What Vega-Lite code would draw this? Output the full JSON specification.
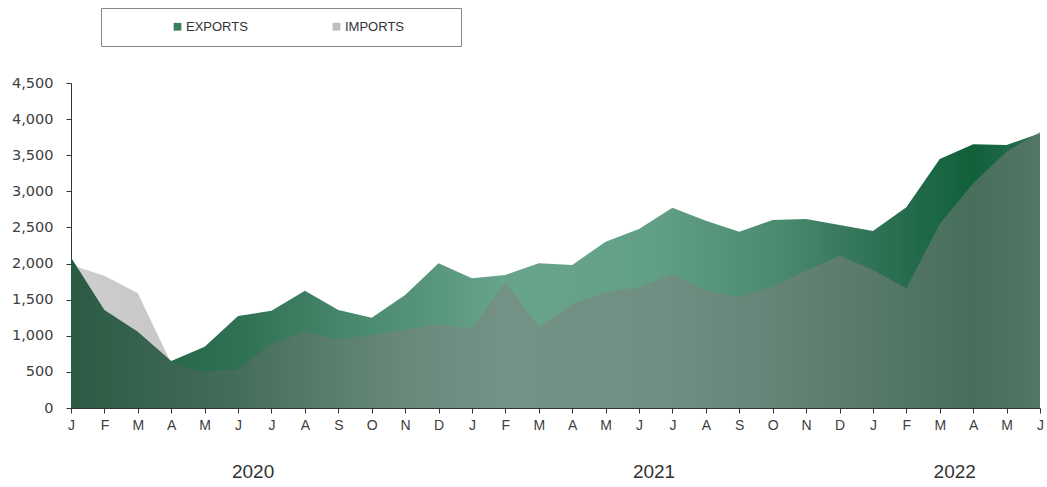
{
  "$schema": "https://vega.github.io/schema/vega-lite/v6.json",
  "width": 969,
  "height": 325,
  "autosize": {"type": "none"},
  "padding": {"left": 71, "top": 83, "right": 7, "bottom": 79},
  "background": "white",
  "config": {
    "view": {"stroke": null},
    "font": "Liberation Sans",
    "axis": {"grid": false, "domainColor": "#333333", "tickColor": "#333333", "labelColor": "#404040", "title": null},
    "axisY": {"tickSize": 5, "labelPadding": 13, "labelFont": "DejaVu Sans", "labelFontSize": 14.5, "labelOverlap": false}
  },
  "datasets": {
    "trade": [
      {"month": "2020-01", "EXPORTS": 2085, "IMPORTS": 1980},
      {"month": "2020-02", "EXPORTS": 1357, "IMPORTS": 1832},
      {"month": "2020-03", "EXPORTS": 1057, "IMPORTS": 1588},
      {"month": "2020-04", "EXPORTS": 650, "IMPORTS": 619},
      {"month": "2020-05", "EXPORTS": 849, "IMPORTS": 503},
      {"month": "2020-06", "EXPORTS": 1274, "IMPORTS": 535},
      {"month": "2020-07", "EXPORTS": 1347, "IMPORTS": 886},
      {"month": "2020-08", "EXPORTS": 1624, "IMPORTS": 1048},
      {"month": "2020-09", "EXPORTS": 1357, "IMPORTS": 951},
      {"month": "2020-10", "EXPORTS": 1250, "IMPORTS": 1011},
      {"month": "2020-11", "EXPORTS": 1565, "IMPORTS": 1080},
      {"month": "2020-12", "EXPORTS": 2003, "IMPORTS": 1163},
      {"month": "2021-01", "EXPORTS": 1795, "IMPORTS": 1094},
      {"month": "2021-02", "EXPORTS": 1842, "IMPORTS": 1749},
      {"month": "2021-03", "EXPORTS": 2003, "IMPORTS": 1126},
      {"month": "2021-04", "EXPORTS": 1980, "IMPORTS": 1440},
      {"month": "2021-05", "EXPORTS": 2303, "IMPORTS": 1602},
      {"month": "2021-06", "EXPORTS": 2478, "IMPORTS": 1671},
      {"month": "2021-07", "EXPORTS": 2774, "IMPORTS": 1855},
      {"month": "2021-08", "EXPORTS": 2594, "IMPORTS": 1620},
      {"month": "2021-09", "EXPORTS": 2442, "IMPORTS": 1532},
      {"month": "2021-10", "EXPORTS": 2603, "IMPORTS": 1680},
      {"month": "2021-11", "EXPORTS": 2617, "IMPORTS": 1901},
      {"month": "2021-12", "EXPORTS": 2534, "IMPORTS": 2109},
      {"month": "2022-01", "EXPORTS": 2451, "IMPORTS": 1911},
      {"month": "2022-02", "EXPORTS": 2779, "IMPORTS": 1657},
      {"month": "2022-03", "EXPORTS": 3448, "IMPORTS": 2548},
      {"month": "2022-04", "EXPORTS": 3651, "IMPORTS": 3111},
      {"month": "2022-05", "EXPORTS": 3642, "IMPORTS": 3549},
      {"month": "2022-06", "EXPORTS": 3803, "IMPORTS": 3826}
    ],
    "years": [
      {"month": "2020-06", "year": "2020"},
      {"month": "2021-06", "year": "2021"},
      {"month": "2022-03", "year": "2022"}
    ]
  },
  "encoding": {
    "x": {
      "field": "month",
      "type": "ordinal",
      "scale": {"type": "point", "padding": 0},
      "axis": {
        "labelAngle": 0,
        "labelExpr": "['J','F','M','A','M','J','J','A','S','O','N','D'][toNumber(slice(datum.value,5,7))-1]",
        "tickSize": 5,
        "labelPadding": 5,
        "labelFontSize": 14,
        "labelFont": "Liberation Sans",
        "title": null
      }
    }
  },
  "layer": [
    {
      "data": {"name": "trade"},
      "mark": {
        "type": "area",
        "color": {
          "gradient": "linear",
          "x1": 0, "y1": 0, "x2": 1, "y2": 0,
          "stops": [
            {"offset": 0, "color": "#1c5f3f"},
            {"offset": 0.17, "color": "#2f7052"},
            {"offset": 0.3, "color": "#4a8a6f"},
            {"offset": 0.45, "color": "#68a48b"},
            {"offset": 0.6, "color": "#62a086"},
            {"offset": 0.72, "color": "#4e8c72"},
            {"offset": 0.83, "color": "#2f7255"},
            {"offset": 0.93, "color": "#10603a"},
            {"offset": 1, "color": "#2a6e50"}
          ]
        }
      },
      "encoding": {
        "y": {
          "field": "EXPORTS",
          "type": "quantitative",
          "title": null,
          "scale": {"domain": [0, 4500], "nice": false},
          "axis": {"values": [0, 500, 1000, 1500, 2000, 2500, 3000, 3500, 4000, 4500], "format": ",.0f", "title": null}
        }
      }
    },
    {
      "data": {"name": "trade"},
      "mark": {
        "type": "area",
        "fill": {
          "gradient": "linear",
          "x1": 0, "y1": 0, "x2": 1, "y2": 0,
          "stops": [
            {"offset": 0, "color": "rgba(80,80,80,0.28)"},
            {"offset": 0.35, "color": "rgba(128,128,128,0.5)"},
            {"offset": 1, "color": "rgba(125,125,125,0.5)"}
          ]
        }
      },
      "encoding": {
        "y": {
          "field": "IMPORTS",
          "type": "quantitative",
          "title": null,
          "scale": {"domain": [0, 4500], "nice": false},
          "axis": {"values": [0, 500, 1000, 1500, 2000, 2500, 3000, 3500, 4000, 4500], "format": ",.0f", "title": null}
        }
      }
    },
    {
      "data": {"name": "trade"},
      "transform": [{"fold": ["EXPORTS", "IMPORTS"], "as": ["series", "value"]}],
      "mark": {"type": "point", "shape": "square", "filled": true, "opacity": 0},
      "encoding": {
        "y": {
          "field": "value",
          "type": "quantitative",
          "title": null,
          "scale": {"domain": [0, 4500], "nice": false},
          "axis": {"values": [0, 500, 1000, 1500, 2000, 2500, 3000, 3500, 4000, 4500], "format": ",.0f", "title": null}
        },
        "color": {
          "field": "series",
          "type": "nominal",
          "scale": {"domain": ["EXPORTS", "IMPORTS"], "range": ["#3a7f60", "#bdbdbd"]},
          "legend": {
            "orient": "none",
            "legendX": 30,
            "legendY": -75,
            "direction": "horizontal",
            "title": ".",
            "titleOrient": "right",
            "titleFontSize": 4,
            "titleColor": "#ffffff",
            "titlePadding": 43,
            "symbolType": "square",
            "symbolSize": 60,
            "symbolStrokeWidth": 0,
            "symbolOffset": 58,
            "labelOffset": 2,
            "padding": 12,
            "columnPadding": 24,
            "strokeColor": "#888888",
            "labelFont": "Liberation Sans",
            "labelFontSize": 13,
            "labelColor": "#333333",
            "encode": {
              "symbols": {"update": {"opacity": {"value": 1}, "fillOpacity": {"value": 1}}}
            }
          }
        }
      }
    },
    {
      "data": {"name": "years"},
      "mark": {"type": "text", "fontSize": 19, "dx": 15, "dy": 64, "color": "#333333", "font": "Liberation Sans", "baseline": "middle", "align": "center"},
      "encoding": {
        "y": {
          "datum": 0,
          "type": "quantitative",
          "title": null,
          "scale": {"domain": [0, 4500], "nice": false},
          "axis": {"values": [0, 500, 1000, 1500, 2000, 2500, 3000, 3500, 4000, 4500], "format": ",.0f", "title": null}
        },
        "text": {"field": "year"}
      }
    }
  ]
}
